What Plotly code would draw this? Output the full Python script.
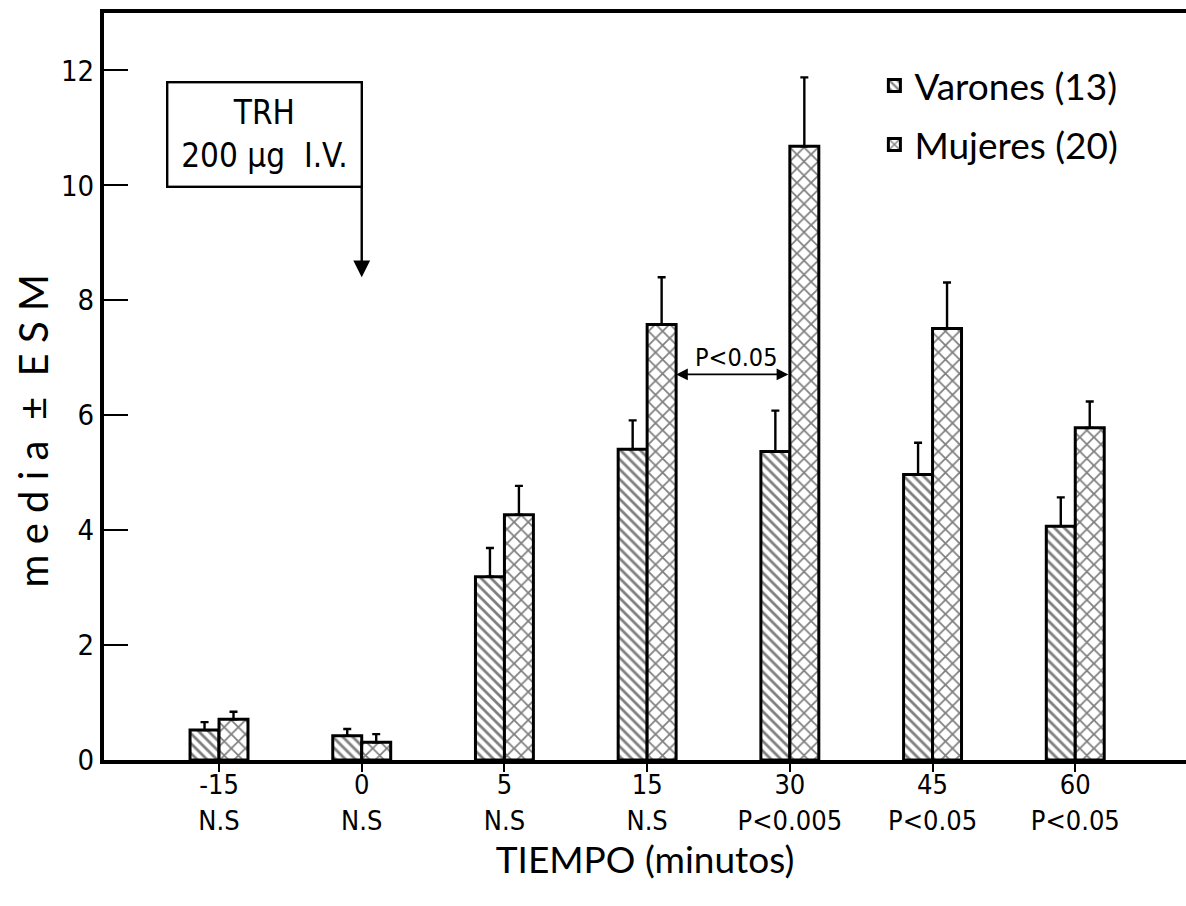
import plotly.graph_objects as go

# Sampling times (minutes) and the significance of the sex difference at each one
tiempos = ["-15", "0", "5", "15", "30", "45", "60"]
significancia = ["N.S", "N.S", "N.S", "N.S", "P&lt;0.005", "P&lt;0.05", "P&lt;0.05"]

# Mean response and standard error of the mean for each group
varones_media = [0.52, 0.42, 3.19, 5.41, 5.37, 4.97, 4.07]
varones_esm = [0.14, 0.12, 0.50, 0.50, 0.71, 0.55, 0.50]
mujeres_media = [0.71, 0.31, 4.27, 7.58, 10.68, 7.51, 5.78]
mujeres_esm = [0.13, 0.14, 0.50, 0.82, 1.20, 0.80, 0.46]

y_ticks = [0, 2, 4, 6, 8, 10, 12]

pos = list(range(len(tiempos)))
tick_labels = [f"{t}<br>{s}" for t, s in zip(tiempos, significancia)]

COND = "DejaVu Sans Condensed, Liberation Sans Narrow, Roboto, sans-serif"
ROUND = "Lato, Noto Sans, sans-serif"

fig = go.Figure()

fig.add_trace(go.Bar(
    x=pos, y=varones_media, name="Varones (13)",
    marker=dict(color="white", line=dict(color="black", width=3),
                pattern=dict(shape="\\", fgcolor="black", bgcolor="white",
                             size=7, solidity=0.4)),
    error_y=dict(type="data", symmetric=False, array=varones_esm,
                 arrayminus=[0] * len(varones_esm),
                 color="black", thickness=2.4, width=4),
    legendgroup="v",
))
fig.add_trace(go.Bar(
    x=pos, y=mujeres_media, name="Mujeres (20)",
    marker=dict(color="white", line=dict(color="black", width=3),
                pattern=dict(shape="x", fgcolor="black", bgcolor="white",
                             size=10, solidity=0.32)),
    error_y=dict(type="data", symmetric=False, array=mujeres_esm,
                 arrayminus=[0] * len(mujeres_esm),
                 color="black", thickness=2.4, width=4),
    legendgroup="m",
))

# TRH administration box with its arrow pointing at time 0
fig.add_annotation(
    xref="paper", yref="paper", x=0.148, y=0.838, xanchor="center", yanchor="middle",
    text="TRH<br>200 μg  I.V.", showarrow=False,
    font=dict(family=COND, size=33, color="black"),
    bordercolor="black", borderwidth=2.4, borderpad=0,
    width=192, height=102, bgcolor="white",
)
fig.add_annotation(
    x=1, y=8.4, ax=1, ay=9.98, xref="x", yref="y", axref="x", ayref="y",
    text="", showarrow=True, arrowhead=2, arrowsize=1.4, arrowwidth=2.4,
    arrowcolor="black",
)

# Comparison between women at 15 and 30 minutes
fig.add_annotation(
    x=3.203, y=6.71, ax=4.0, ay=6.71, xref="x", yref="y", axref="x", ayref="y",
    text="", showarrow=True, arrowhead=2, arrowside="end+start",
    arrowsize=1.3, arrowwidth=1.8, arrowcolor="black", standoff=0, startstandoff=0,
)
fig.add_annotation(
    x=3.62, y=7.0, xref="x", yref="y", text="P&lt;0.05", showarrow=False,
    font=dict(family=COND, size=25, color="black"),
)

# Vertical axis title, centred on the lower part of the axis
fig.add_annotation(
    xref="paper", yref="paper", x=-0.0655, y=0.44, xanchor="center", yanchor="middle",
    text="m e d i a  ±  E S M", textangle=-90, showarrow=False,
    font=dict(family=ROUND, size=40, color="black"),
)

fig.update_layout(
    width=1186, height=906,
    margin=dict(l=104, r=0, t=13, b=146),
    paper_bgcolor="white", plot_bgcolor="white",
    barmode="group", bargap=0.594, bargroupgap=0,
    showlegend=True,
    legend=dict(x=0.712, y=0.944, xanchor="left", yanchor="top",
                font=dict(family=ROUND, size=37, color="black"),
                traceorder="grouped", tracegroupgap=8,
                bgcolor="rgba(0,0,0,0)", itemwidth=30),
    xaxis=dict(
        range=[-0.806, 6.776], tickmode="array", tickvals=pos, ticktext=tick_labels,
        showline=True, linecolor="black", linewidth=4, mirror=True,
        ticks="outside", ticklen=8, tickwidth=2, tickcolor="black",
        ticklabelstandoff=-10,
        showgrid=False, zeroline=False,
        tickfont=dict(family=COND, size=27, color="black"),
        title=dict(text="TIEMPO (minutos)", standoff=14,
                   font=dict(family=ROUND, size=37, color="black")),
    ),
    yaxis=dict(
        range=[0, 13.0], tickmode="array", tickvals=y_ticks,
        showline=True, linecolor="black", linewidth=4,
        ticks="inside", ticklen=24, tickwidth=2, tickcolor="black",
        showgrid=False, zeroline=False,
        tickfont=dict(family=COND, size=29, color="black"),
    ),
)

fig.write_html("out.html")
